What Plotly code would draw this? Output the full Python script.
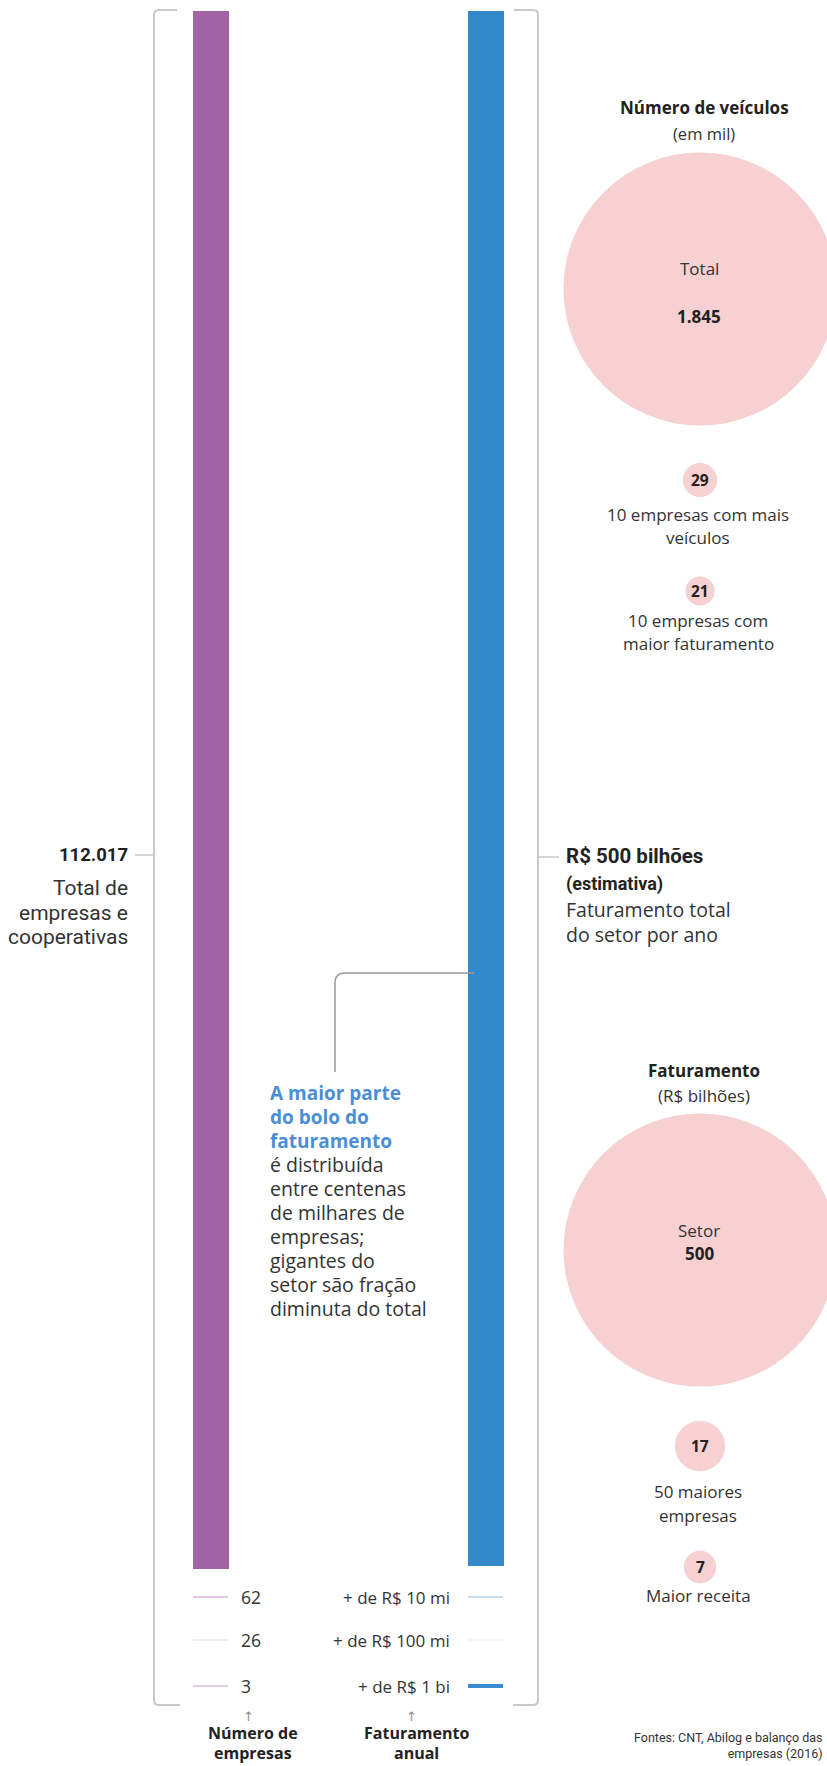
import plotly.graph_objects as go

# ---- data -------------------------------------------------------------
colunas = ["Número de empresas", "Faturamento anual"]
total_empresas = 112017          # empresas e cooperativas
faturamento_total_bi = 500       # R$ bilhões por ano (estimativa)

faixas_faturamento = ["+ de R$ 10 mi", "+ de R$ 100 mi", "+ de R$ 1 bi"]
empresas_por_faixa = [62, 26, 3]

veiculos_rotulos = [["Total"], ["10 empresas com mais", "veículos"],
                    ["10 empresas com", "maior faturamento"]]
veiculos_mil = [1845, 29, 21]

faturamento_rotulos = [["Setor"], ["50 maiores", "empresas"], ["Maior receita"]]
faturamento_bi = [500, 17, 7]

# ---- style ------------------------------------------------------------
W, H = 827, 1766
SANS = "Open Sans, Noto Sans, sans-serif"
NARROW = "Liberation Sans Narrow, Roboto, sans-serif"
TXT = "#333333"
DARK = "#222222"
ROXO = "#a263a5"
AZUL = "#3389c9"
ROSA = "#f7d0d2"
CINZA = "#c9c9c9"


def fmt(n):
    return f"{n:,}".replace(",", ".")


fig = go.Figure()

# full-page pixel axes for bubbles, labels and guides
fig.update_layout(
    width=W, height=H, margin=dict(l=0, r=0, t=0, b=0),
    paper_bgcolor="white", plot_bgcolor="rgba(0,0,0,0)",
    showlegend=False,
    xaxis=dict(range=[0, W], domain=[0, 1], visible=False, fixedrange=True),
    yaxis=dict(range=[H, 0], domain=[0, 1], visible=False, fixedrange=True),
)

# ---- columns: each scaled to its own total ----------------------------
bar_w = 36 / 275
fig.add_trace(go.Bar(x=[colunas[0]], y=[total_empresas], width=bar_w,
                     marker=dict(color=ROXO, line=dict(width=0)),
                     xaxis="x2", yaxis="y2", hoverinfo="skip"))
fig.add_trace(go.Bar(x=[colunas[1]], y=[faturamento_total_bi], width=bar_w,
                     marker=dict(color=AZUL, line=dict(width=0)),
                     xaxis="x2", yaxis="y3", hoverinfo="skip"))
fig.update_layout(
    xaxis2=dict(type="category", categoryorder="array", categoryarray=colunas,
                range=[-0.5, 1.5], domain=[73.5 / W, 623.5 / W],
                anchor="y2", visible=False, fixedrange=True),
    yaxis2=dict(range=[0, total_empresas], domain=[1 - 1569 / H, 1 - 11 / H],
                anchor="x2", visible=False, fixedrange=True),
    yaxis3=dict(range=[0, faturamento_total_bi], domain=[1 - 1566 / H, 1 - 11 / H],
                anchor="x2", visible=False, fixedrange=True),
)

# ---- bubbles (area proportional, each group scaled to its own total) --
D_MAX = 273
bub_x = 700
for valores, ys in ((veiculos_mil, [289, 480, 591]),
                    (faturamento_bi, [1250, 1446, 1567])):
    fig.add_trace(go.Scatter(
        x=[bub_x] * len(valores), y=ys, mode="markers",
        marker=dict(size=valores, sizemode="area",
                    sizeref=2 * max(valores) / D_MAX ** 2,
                    color=ROSA, opacity=1, line=dict(width=0)),
        hoverinfo="skip", cliponaxis=False))


def label(x, y, text, size=16, bold=False, color=TXT, anchor="center",
          family=SANS, ref="x"):
    fig.add_annotation(x=x, y=y, xref=ref, yref="y", showarrow=False,
                       text=f"<b>{text}</b>" if bold else text,
                       xanchor=anchor, yanchor="middle", borderpad=0,
                       align=anchor if anchor != "center" else "center",
                       font=dict(family=family, size=size, color=color))


def lines(x, y0, step, texts, **kw):
    for i, t in enumerate(texts):
        label(x, y0 + i * step, t, **kw)


# vehicles group
label(704, 107, "Número de veículos", size=17, bold=True, color=DARK)
label(704, 133, "(em mil)", size=16.5)
label(699, 268, veiculos_rotulos[0][0], size=17)
label(699, 316, fmt(veiculos_mil[0]), size=17, bold=True, color=DARK)
label(700, 480, fmt(veiculos_mil[1]), size=15.5, bold=True, color=DARK)
lines(698, 514, 23.5, veiculos_rotulos[1], size=17)
label(700, 591, fmt(veiculos_mil[2]), size=15.5, bold=True, color=DARK)
lines(698, 620, 23.5, veiculos_rotulos[2], size=17)

# revenue group
label(704, 1070, "Faturamento", size=17, bold=True, color=DARK)
label(704, 1095, "(R$ bilhões)", size=17)
label(699, 1230, faturamento_rotulos[0][0], size=17)
label(699, 1253, fmt(faturamento_bi[0]), size=17, bold=True, color=DARK)
label(700, 1446, fmt(faturamento_bi[1]), size=15.5, bold=True, color=DARK)
lines(698, 1491, 24, faturamento_rotulos[1], size=17)
label(700, 1567, fmt(faturamento_bi[2]), size=15.5, bold=True, color=DARK)
label(698, 1595, faturamento_rotulos[2][0], size=17)

# ---- brackets around the two columns ----------------------------------
fig.add_shape(type="path", xref="x", yref="y",
              path="M 177,10 H 159 Q 154,10 154,15 V 1700 Q 154,1705 159,1705 H 180",
              line=dict(color=CINZA, width=2))
fig.add_shape(type="path", xref="x", yref="y",
              path="M 514,10 H 533 Q 538,10 538,15 V 1700 Q 538,1705 533,1705 H 513",
              line=dict(color=CINZA, width=2))

# totals beside the brackets
fig.add_shape(type="line", xref="x", yref="y", x0=135, x1=154, y0=855, y1=855,
              line=dict(color=CINZA, width=1.5))
label(129, 855, fmt(total_empresas), size=18.5, bold=True, color=DARK,
      anchor="right", family=NARROW)
lines(129, 888, 24.5, ["Total de", "empresas e", "cooperativas"], size=21,
      anchor="right", family=NARROW)

fig.add_shape(type="line", xref="x", yref="y", x0=538, x1=559, y0=857, y1=857,
              line=dict(color=CINZA, width=1.5))
label(565, 856, f"R$ {faturamento_total_bi} bilhões", size=20.5, bold=True,
      color=DARK, anchor="left", family=NARROW)
label(565, 884, "(estimativa)", size=18, bold=True, color=DARK, anchor="left",
      family=NARROW)
label(565, 922, "Faturamento total<br>do setor por ano", size=19.5,
      anchor="left")

# ---- callout ----------------------------------------------------------
fig.add_shape(type="path", xref="x", yref="y",
              path="M 474,973 H 345 Q 335,973 335,983 V 1072",
              line=dict(color="#9a9a9a", width=1.5))
callout_destaque = ["A maior parte", "do bolo do", "faturamento"]
callout_texto = ["é distribuída", "entre centenas", "de milhares de", "empresas;",
                 "gigantes do", "setor são fração", "diminuta do total"]
lines(269, 1093, 23.9, callout_destaque, size=19, bold=True, color="#4a8fd6",
      anchor="left")
lines(269, 1093 + 3 * 23.9, 23.9, callout_texto, size=19.5, anchor="left")

# ---- slices of the columns: key rows ----------------------------------
row_y = [1597, 1640, 1686]
roxo_linhas = [("#d6b4d8", 1.5), ("#eee3ef", 1.5), ("#d9bddb", 1.5)]
azul_linhas = [("#aed0ed", 1.5), ("#eef4fa", 1.5), ("#3a8bd0", 4)]
for i, (n, faixa) in enumerate(zip(empresas_por_faixa, faixas_faturamento)):
    y = row_y[i]
    fig.add_trace(go.Scatter(x=[193, 228], y=[y, y], mode="lines",
                             line=dict(color=roxo_linhas[i][0], width=roxo_linhas[i][1]),
                             hoverinfo="skip"))
    fig.add_trace(go.Scatter(x=[468, 503], y=[y, y], mode="lines",
                             line=dict(color=azul_linhas[i][0], width=azul_linhas[i][1]),
                             hoverinfo="skip"))
    label(240, y, str(n), size=17.5, anchor="left")
    label(451, y, faixa, size=17, anchor="right")

# ---- column captions --------------------------------------------------
for cx, nome in ((251, colunas[0]), (414, colunas[1])):
    label(cx - 3, 1716, "↑", size=13, color="#8c8c8c", family="DejaVu Sans")
    palavras = nome.split(" ")
    linhas = [" ".join(palavras[:2]), " ".join(palavras[2:])] if len(palavras) > 2 \
        else palavras
    lines(cx + 2, 1733, 19.5, linhas, size=16, bold=True, color=DARK)

# ---- sources ----------------------------------------------------------
label(824, 1745, "Fontes: CNT, Abilog e balanço das<br>empresas (2016)",
      size=12.5, anchor="right", family=NARROW, color=TXT)

fig.write_html("out.html")
